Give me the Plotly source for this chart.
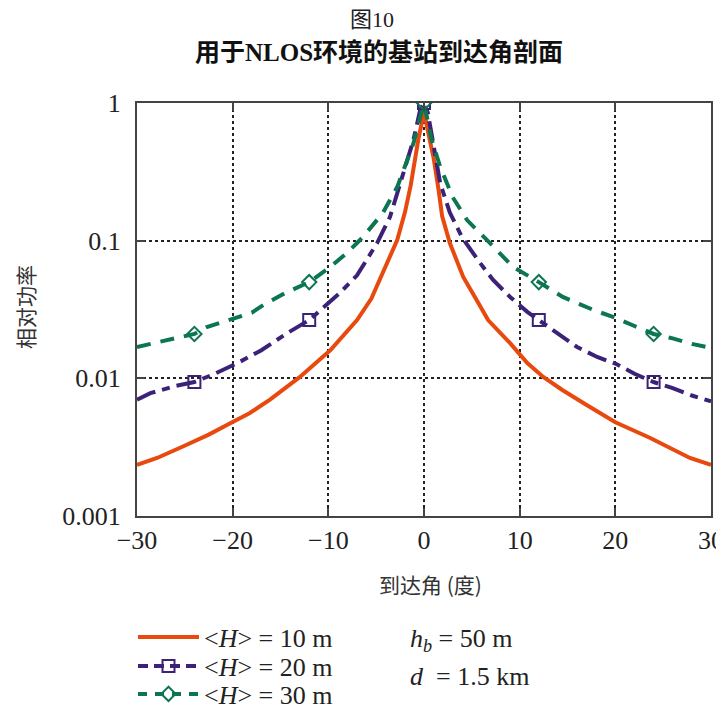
import plotly.graph_objects as go

# ---- data ----
x_h10 = [-30, -27.9, -25.2, -22.5, -20.3, -18.2, -16.1, -13, -9.8, -7, -5.5, -4.3, -2.8, -2.0, -1.4, -0.6, 0,
         0.6, 1.0, 1.5, 1.9, 2.7, 4.1, 5.5, 6.7, 9, 10.8, 12.5, 14.5, 17, 20, 23.6, 25.5, 27.8, 30]
y_h10 = [0.00235, 0.00264, 0.0032, 0.0039, 0.0047, 0.0056, 0.0070, 0.0102, 0.016, 0.0265, 0.038, 0.058, 0.101,
         0.16, 0.25, 0.54, 0.86,
         0.54, 0.40, 0.24, 0.15, 0.096, 0.0545, 0.037, 0.0265, 0.018, 0.0129, 0.0102, 0.0082, 0.0064, 0.0048,
         0.0037, 0.0032, 0.00264, 0.00235]

x_h20 = [-30, -28.6, -26, -24, -22, -19.5, -17, -14.3, -12, -10.5, -8.8, -7, -4.9, -3.55, -2.2, -1.1, -0.4, 0,
         0.4, 1.0, 1.7, 2.7, 4.0, 5.85, 7.2, 9, 10.8, 12, 14, 16, 18.1, 20, 22, 24, 26, 28, 30]
y_h20 = [0.0070, 0.0078, 0.0088, 0.0094, 0.0107, 0.0129, 0.0160, 0.0213, 0.0265, 0.033, 0.0417, 0.056, 0.096,
         0.149, 0.31, 0.54, 0.89, 1.0,
         0.85, 0.50, 0.26, 0.16, 0.105, 0.069, 0.052, 0.039, 0.0304, 0.0265, 0.021, 0.0169, 0.0143, 0.0128,
         0.0108, 0.0094, 0.0085, 0.0075, 0.0068]

x_h30 = [-30, -28.6, -26, -24, -22.7, -20.3, -18, -16.8, -14.5, -12, -9.8, -8, -6.4, -4.3, -2.8, -1.1, -0.2, 0,
         0.8, 1.7, 3.0, 4.5, 6.9, 9.3, 12, 14.5, 17.7, 20, 22, 24, 26, 28, 30]
y_h30 = [0.0169, 0.0178, 0.0197, 0.021, 0.0236, 0.0265, 0.030, 0.0341, 0.0417, 0.050, 0.0645, 0.082, 0.106,
         0.159, 0.245, 0.51, 0.89, 1.0,
         0.54, 0.343, 0.207, 0.141, 0.096, 0.0645, 0.050, 0.039, 0.0314, 0.0275, 0.024, 0.021, 0.0195,
         0.0178, 0.0166]

marker_x = [-24, -12, 0, 12, 24]
marker_y_h20 = [0.0094, 0.0265, 1.0, 0.0265, 0.0094]
marker_y_h30 = [0.021, 0.050, 1.0, 0.050, 0.021]

series_names = ["&lt;<i>H</i>&gt; = 10 m", "&lt;<i>H</i>&gt; = 20 m", "&lt;<i>H</i>&gt; = 30 m"]
y_ticks = [0.001, 0.01, 0.1, 1]
y_ticktext = ["0.001", "0.01", "0.1", "1"]
x_ticks = [-30, -20, -10, 0, 10, 20, 30]
x_ticktext = ["\u221230", "\u221220", "\u221210", "0", "10", "20", "30"]

ORANGE = "#E8490F"
PURPLE = "#3C2178"
GREEN = "#0B7650"
SERIF = "Liberation Serif, Times New Roman, Noto Sans CJK SC, serif"
CJK = "Noto Sans CJK SC, sans-serif"
DASH_H20 = "20px,7px,8px,7px"
DASH_H30 = "14px,10px"
TXT = "#222"

# page has an 8px body margin: figure occupies screen 8..724 x 8..709
OFF = 8
FIG_W, FIG_H = 724 - OFF, 709 - OFF
PL, PR, PT, PB = 137, 711, 103, 516   # plot area in screen px


def px(sx):
    return (sx - PL) / (PR - PL)


def py(sy):
    return (PB - sy) / (PB - PT)


fig = go.Figure()

# curves
fig.add_trace(go.Scatter(x=x_h10, y=y_h10, mode="lines", line=dict(color=ORANGE, width=4),
                         showlegend=False))
fig.add_trace(go.Scatter(x=x_h20, y=y_h20, mode="lines", line=dict(color=PURPLE, width=4, dash=DASH_H20),
                         showlegend=False))
fig.add_trace(go.Scatter(x=x_h30, y=y_h30, mode="lines", line=dict(color=GREEN, width=4, dash=DASH_H30),
                         showlegend=False))
# markers
fig.add_trace(go.Scatter(x=marker_x, y=marker_y_h20, mode="markers",
                         marker=dict(symbol="square-open", size=12, color=PURPLE, line=dict(width=2)),
                         showlegend=False))
fig.add_trace(go.Scatter(x=marker_x, y=marker_y_h30, mode="markers",
                         marker=dict(symbol="diamond-open", size=11, color=GREEN, line=dict(width=2)),
                         showlegend=False))
# legend entries (one legend per row for exact spacing)
fig.add_trace(go.Scatter(x=[None], y=[None], mode="lines", name=series_names[0], legend="legend",
                         line=dict(color=ORANGE, width=4)))
fig.add_trace(go.Scatter(x=[None], y=[None], mode="lines+markers", name=series_names[1], legend="legend2",
                         line=dict(color=PURPLE, width=4, dash="10px,6px"),
                         marker=dict(symbol="square-open", size=12, color=PURPLE, line=dict(width=2))))
fig.add_trace(go.Scatter(x=[None], y=[None], mode="lines+markers", name=series_names[2], legend="legend3",
                         line=dict(color=GREEN, width=4, dash="9px,8px"),
                         marker=dict(symbol="diamond-open", size=11, color=GREEN, line=dict(width=2))))


def leg(sy):
    return dict(x=125 / FIG_W, y=1 - (sy - OFF) / FIG_H, xref="container", yref="container",
                xanchor="left", yanchor="middle", itemwidth=61,
                bgcolor="rgba(0,0,0,0)", font=dict(family=SERIF, size=26, color=TXT),
                itemclick=False, itemdoubleclick=False)


axis_common = dict(showgrid=True, gridcolor="#222", griddash="dot", gridwidth=1.5,
                   showline=True, linecolor="#444", linewidth=2, mirror="allticks",
                   ticks="inside", ticklen=8, tickwidth=2, tickcolor="#444",
                   zeroline=False, automargin=False,
                   tickfont=dict(family=SERIF, size=26, color=TXT))

fig.update_layout(
    width=FIG_W, height=FIG_H,
    margin=dict(l=PL - OFF, r=724 - PR, t=PT - OFF, b=709 - PB, autoexpand=False),
    paper_bgcolor="white", plot_bgcolor="white",
    font=dict(family=SERIF, size=26, color=TXT),
    showlegend=True,
    legend=leg(637), legend2=leg(666), legend3=leg(694),
    xaxis=dict(range=[-30, 30], tickvals=x_ticks, ticktext=x_ticktext, ticklabelstandoff=0,
               **axis_common),
    yaxis=dict(type="log", range=[-3, 0], tickvals=y_ticks, ticktext=y_ticktext, ticklabelstandoff=9,
               **axis_common),
    annotations=[
        dict(text="图10", x=px(372), y=py(19.5), xref="paper", yref="paper", showarrow=False,
             font=dict(family=SERIF, size=22, color=TXT), xanchor="center", yanchor="middle"),
        dict(text="<b>用于NLOS环境的基站到达角剖面</b>", x=px(378.5), y=py(52), xref="paper", yref="paper",
             showarrow=False, font=dict(family=SERIF, size=25, color="#111"),
             xanchor="center", yanchor="middle"),
        dict(text="到达角 (度)", x=px(430), y=py(584), xref="paper", yref="paper", showarrow=False,
             font=dict(family=CJK, size=21, color="#333"), xanchor="center", yanchor="middle"),
        dict(text="相对功率", x=px(25), y=py(307), xref="paper", yref="paper", showarrow=False,
             textangle=-90, font=dict(family=CJK, size=21, color="#333"),
             xanchor="center", yanchor="middle"),
        dict(text="<i>h</i><sub><i>b</i></sub> = 50 m", x=px(408), y=py(640),
             xref="paper", yref="paper", showarrow=False, align="left",
             font=dict(family=SERIF, size=26, color=TXT), xanchor="left", yanchor="middle"),
        dict(text="<i>d</i>  = 1.5 km", x=px(408), y=py(676),
             xref="paper", yref="paper", showarrow=False, align="left",
             font=dict(family=SERIF, size=26, color=TXT), xanchor="left", yanchor="middle"),
    ],
)

fig.write_html("out.html")
